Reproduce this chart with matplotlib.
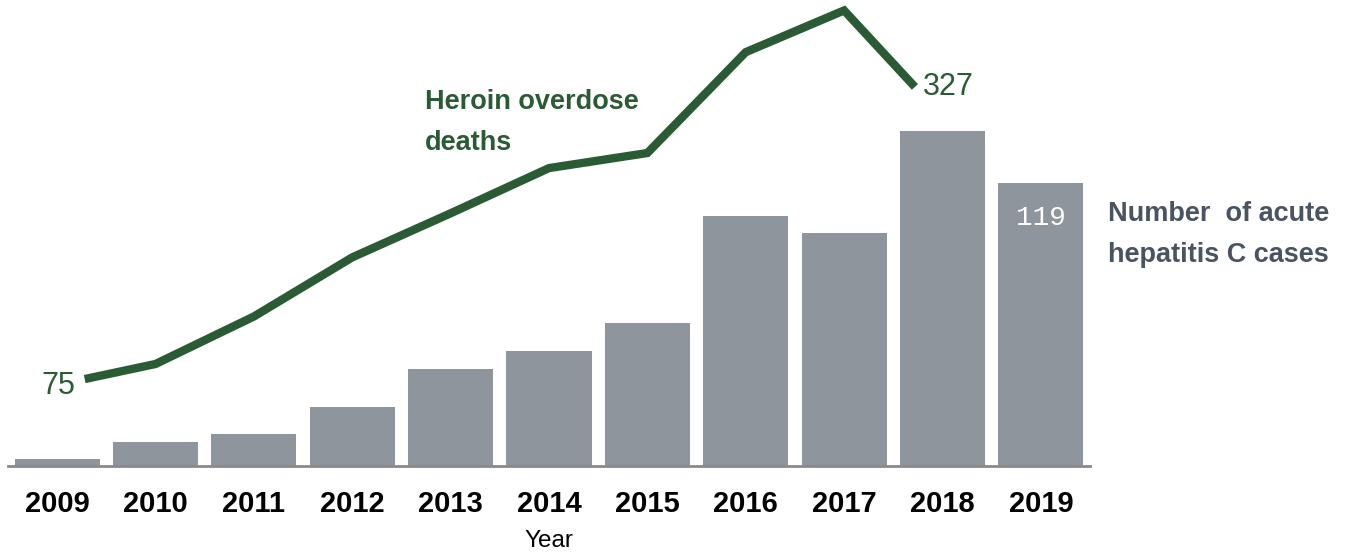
import numpy as np
import matplotlib.pyplot as plt

# data
years = ['2009', '2010', '2011', '2012', '2013', '2014', '2015', '2016', '2017', '2018', '2019']
hepc_cases = [3, 10, 13.5, 25, 41, 48.5, 60, 105, 98, 141, 119]
death_years = years[:10]
heroin_deaths = [75, 88, 129, 180, 218, 257, 270, 357, 393, 327]

green = '#2b5b34'
bar_grey = '#8e959d'
text_grey = '#4a5461'

plt.rcParams['font.family'] = ['Liberation Sans', 'DejaVu Sans']

fig = plt.figure(figsize=(13.59, 5.54), dpi=100)
ax = fig.add_axes([8/1359, 88/554, 1082/1359, 466/554])

x = np.arange(len(years))
ax.bar(x, hepc_cases, width=0.865, color=bar_grey, zorder=2)
ax.set_xlim(-0.5, 10.5)
ax.set_ylim(0, 196)

for s in ['top', 'right', 'left']:
    ax.spines[s].set_visible(False)
ax.spines['bottom'].set_color('#8a8a8a')
ax.spines['bottom'].set_linewidth(2)
ax.set_yticks([])
ax.set_xticks(x)
ax.set_xticklabels(years, fontsize=21, fontweight='bold')
ax.tick_params(axis='x', length=0, pad=17)
ax.set_xlabel('Year', fontsize=17.5, labelpad=9)

ax.text(x[-1], hepc_cases[-1] - 14.5, str(hepc_cases[-1]), color='white',
        fontsize=20, family='Liberation Mono', ha='center', va='center', zorder=3)

# line on its own scale, ends pulled in a little to leave room for labels
ax2 = ax.twinx()
ax2.set_ylim(0, 402)
ax2.set_yticks([])
for s in ax2.spines.values():
    s.set_visible(False)

lx = np.arange(len(death_years)).astype(float)
inset = 0.28
lx[0] += inset
lx[-1] -= inset
ax2.plot(lx, heroin_deaths, color=green, lw=6, solid_joinstyle='miter',
         solid_capstyle='butt', zorder=4)

ax2.annotate(str(heroin_deaths[0]), xy=(lx[0], heroin_deaths[0]), xytext=(-7, -5),
             textcoords='offset points', ha='right', va='center', fontsize=22, color=green)
ax2.annotate(str(heroin_deaths[-1]), xy=(lx[-1], heroin_deaths[-1]), xytext=(6, 0),
             textcoords='offset points', ha='left', va='center', fontsize=22, color=green)

fig.text(425/1359, 1 - 89/554, 'Heroin overdose\ndeaths', ha='left', va='top',
         fontsize=19.5, fontweight='bold', color=green, linespacing=1.75)
fig.text(1108/1359, 1 - 201/554, 'Number  of acute\nhepatitis C cases', ha='left', va='top',
         fontsize=19.5, fontweight='bold', color=text_grey, linespacing=1.75)

fig.savefig('out.png', dpi=100)
